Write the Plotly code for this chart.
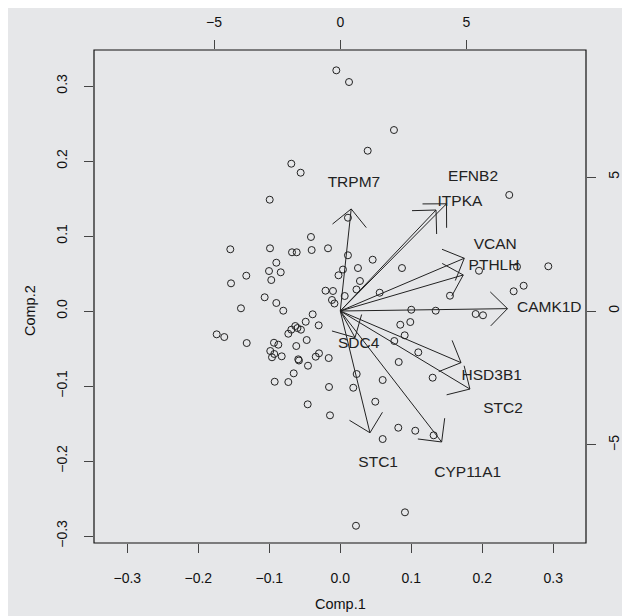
import math
import plotly.graph_objects as go

# ---------------- data ----------------
# PCA scores (Comp.1, Comp.2)
score_x = [-0.0056, 0.0123, 0.0386, 0.0756, -0.0690, -0.0558, -0.0994, 0.0108, 0.2380, -0.0413,
           -0.1549, -0.0990, -0.0680, -0.0614, -0.0403, -0.0173, -0.0901, -0.1004, -0.0839, -0.0972,
           -0.1324, -0.1539, 0.0108, 0.0038, -0.0025, 0.0249, 0.0277, 0.0456, 0.0869, -0.1065,
           -0.0901, -0.0803, -0.1399, -0.0208, -0.0103, -0.0117, -0.0082, 0.0062, 0.0228, 0.0555,
           0.1954, 0.2489, 0.2930, 0.2583, 0.2442, 0.1545, 0.1000, 0.1344, 0.1907, 0.2010,
           0.0845, 0.0986, 0.0907, 0.0761, 0.1099, 0.0823, -0.0389, -0.0487, -0.0304, -0.0634,
           -0.0603, -0.0554, -0.0690, -0.0732, -0.1741, -0.1634, -0.1318, -0.0934, -0.0873, -0.0473,
           -0.0620, -0.0986, -0.0930, -0.0962, -0.0825, -0.0592, -0.0582, -0.0346, -0.0300, -0.0455,
           -0.0163, -0.0656, -0.0924, -0.0732, -0.0159, 0.0183, 0.0231, 0.0597, 0.1301, 0.0493,
           -0.0459, -0.0145, 0.0817, 0.1056, 0.1315, 0.0597, 0.0221, 0.0911]
score_y = [0.3209, 0.3053, 0.2137, 0.2413, 0.1964, 0.1844, 0.1484, 0.1244, 0.1547, 0.0987,
           0.0823, 0.0836, 0.0783, 0.0783, 0.0813, 0.0836, 0.0644, 0.0533, 0.0516, 0.0413,
           0.0471, 0.0369, 0.0743, 0.0553, 0.0476, 0.0573, 0.0400, 0.0684, 0.0573, 0.0183,
           0.0107, 0.0004, 0.0036, 0.0271, 0.0267, 0.0147, 0.0100, 0.0200, 0.0287, 0.0244,
           0.0537, 0.0591, 0.0596, 0.0337, 0.0263, 0.0204, 0.0017, 0.0004, -0.0040, -0.0057,
           -0.0183, -0.0147, -0.0324, -0.0400, -0.0551, -0.0680, -0.0044, -0.0143, -0.0191, -0.0200,
           -0.0227, -0.0249, -0.0249, -0.0303, -0.0311, -0.0347, -0.0427, -0.0423, -0.0449, -0.0387,
           -0.0467, -0.0533, -0.0573, -0.0617, -0.0604, -0.0644, -0.0660, -0.0609, -0.0564, -0.0729,
           -0.0627, -0.0831, -0.0943, -0.0947, -0.1013, -0.1023, -0.0840, -0.0920, -0.0889, -0.1209,
           -0.1244, -0.1391, -0.1556, -0.1596, -0.1657, -0.1707, -0.2863, -0.2684]

# variable loadings (top / right axes)
genes  = ["TRPM7", "EFNB2", "ITPKA", "VCAN", "PTHLH", "CAMK1D", "SDC4", "HSD3B1", "STC2", "CYP11A1", "STC1"]
load_x = [0.54, 5.26, 4.74, 6.14, 6.09, 8.28, 0.73, 5.98, 6.42, 5.02, 1.47]
load_y = [4.76, 5.00, 4.71, 2.46, 1.68, 0.11, -1.24, -2.41, -3.64, -6.11, -5.68]
lab_x  = [0.54, 5.26, 4.74, 6.14, 6.09, 8.28, 0.73, 6.00, 6.45, 5.05, 1.50]
lab_y  = [4.76, 5.00, 4.07, 2.46, 1.68, 0.11, -1.24, -2.42, -3.65, -6.06, -5.68]

prim_ticks = [-0.3, -0.2, -0.1, 0.0, 0.1, 0.2, 0.3]
prim_text = ["\u22120.3", "\u22120.2", "\u22120.1", "0.0", "0.1", "0.2", "0.3"]
sec_ticks = [-5, 0, 5]
sec_text = ["\u22125", "0", "5"]

# ---------------- layout geometry ----------------
W, H = 630, 616
ML, MR, MT, MB = 86, 52, 42, 81
PW, PH = W - ML - MR, H - MT - MB
xr = [-0.3469, 0.3461]
yr = [-0.3093, 0.3480]
x2r = [-9.758, 9.735]
y2r = [-8.657, 9.739]

BG = "#e6e7e9"
INK = "#222222"
FONT = "Liberation Sans, Arial, Helvetica, sans-serif"

fig = go.Figure()

# scores
fig.add_trace(go.Scatter(
    x=score_x, y=score_y, mode="markers",
    marker=dict(symbol="circle-open", size=7, color=INK, line=dict(width=1, color=INK)),
    hoverinfo="skip", showlegend=False, xaxis="x", yaxis="y"))

# arrows (shaft + open head), in secondary-axis units
sx = PW / (x2r[1] - x2r[0])
sy = PH / (y2r[1] - y2r[0])
head = 24.0
ang = math.radians(45)
ax_, ay_ = [], []
for lx, ly in zip(load_x, load_y):
    tx, ty = 0.8 * lx, 0.8 * ly
    ax_ += [0, tx, None]
    ay_ += [0, ty, None]
    dxp, dyp = tx * sx, ty * sy
    th = math.atan2(dyp, dxp)
    for s in (1, -1):
        a = th + math.pi + s * ang
        bx = tx + head * math.cos(a) / sx
        by = ty + head * math.sin(a) / sy
        ax_ += [tx, bx, None]
        ay_ += [ty, by, None]
fig.add_trace(go.Scatter(
    x=ax_, y=ay_, mode="lines", line=dict(color=INK, width=1),
    hoverinfo="skip", showlegend=False, xaxis="x2", yaxis="y2"))

fig.add_trace(go.Scatter(
    x=lab_x, y=lab_y, mode="text", text=genes,
    textfont=dict(family=FONT, size=15.5, color=INK), textposition="middle center",
    hoverinfo="skip", showlegend=False, xaxis="x2", yaxis="y2"))

axis_common = dict(
    showgrid=False, zeroline=False, showline=False, automargin=False,
    ticks="outside", ticklen=9, tickwidth=1, tickcolor="#444444",
    tickfont=dict(family=FONT, size=14, color="#111111"),
    fixedrange=True,
)

fig.update_layout(
    width=W, height=H, autosize=False,
    margin=dict(l=ML, r=MR, t=MT, b=MB, pad=0),
    paper_bgcolor=BG, plot_bgcolor=BG,
    showlegend=False,
    xaxis=dict(range=xr, tickmode="array", tickvals=prim_ticks, ticktext=prim_text,
               side="bottom", anchor="y", ticklabelstandoff=13, **axis_common),
    yaxis=dict(range=yr, tickmode="array", tickvals=prim_ticks, ticktext=prim_text,
               side="left", anchor="x", tickangle=-90, ticklabelstandoff=11, **axis_common),
    xaxis2=dict(range=x2r, tickmode="array", tickvals=sec_ticks, ticktext=sec_text,
                side="top", overlaying="x", anchor="y", ticklabelstandoff=7, **axis_common),
    yaxis2=dict(range=y2r, tickmode="array", tickvals=sec_ticks, ticktext=sec_text,
                side="right", overlaying="y", anchor="x", tickangle=-90, ticklabelstandoff=6,
                **axis_common),
    shapes=[dict(type="rect", xref="paper", yref="paper", x0=0, x1=1, y0=0, y1=1,
                 line=dict(color="#111111", width=1.2), fillcolor="rgba(0,0,0,0)", layer="above")],
    annotations=[
        dict(text="Comp.1", xref="paper", yref="paper", x=0.5, y=-61 / PH,
             showarrow=False, font=dict(family=FONT, size=14.5, color="#111111"),
             xanchor="center", yanchor="middle"),
        dict(text="Comp.2", xref="paper", yref="paper", x=(22 - ML) / PW, y=(H - MB - 303) / PH,
             showarrow=False, textangle=-90, font=dict(family=FONT, size=14.5, color="#111111"),
             xanchor="center", yanchor="middle"),
    ],
)

fig.write_html("out.html")
